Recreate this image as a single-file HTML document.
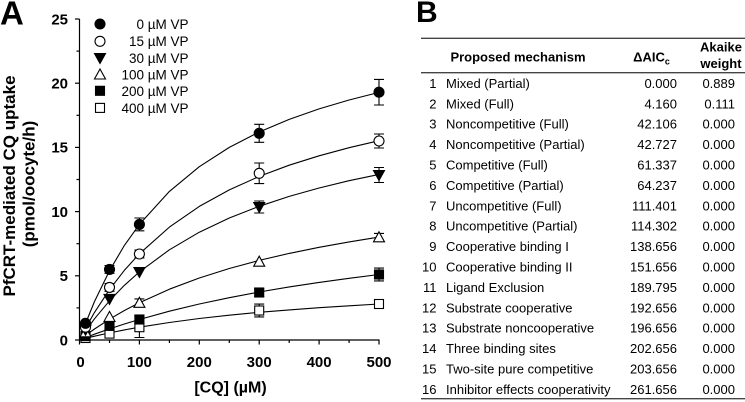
<!DOCTYPE html>
<html>
<head>
<meta charset="utf-8">
<style>
html,body{margin:0;padding:0;background:#fff;}
svg{display:block;}
text{font-family:"Liberation Sans",Arial,sans-serif;fill:#000;}
</style>
</head>
<body>
<svg width="745" height="402" viewBox="0 0 745 402" xmlns="http://www.w3.org/2000/svg">
<rect width="745" height="402" fill="#fff"/>

<!-- Panel labels -->
<text x="0" y="24.5" font-size="33" font-weight="bold">A</text>
<text x="416" y="22" font-size="30" font-weight="bold">B</text>

<!-- Axes -->
<g stroke="#000" stroke-width="1.2" fill="none">
  <line x1="79.5" y1="19" x2="79.5" y2="340.5"/>
  <line x1="79" y1="340" x2="379.5" y2="340"/>
  <!-- y major ticks -->
  <line x1="75" y1="340" x2="79.5" y2="340"/>
  <line x1="75" y1="275.8" x2="79.5" y2="275.8"/>
  <line x1="75" y1="211.6" x2="79.5" y2="211.6"/>
  <line x1="75" y1="147.4" x2="79.5" y2="147.4"/>
  <line x1="75" y1="83.2" x2="79.5" y2="83.2"/>
  <line x1="75" y1="19" x2="79.5" y2="19"/>
  <!-- y minor ticks -->
  <line x1="76.5" y1="307.9" x2="79.5" y2="307.9"/>
  <line x1="76.5" y1="243.7" x2="79.5" y2="243.7"/>
  <line x1="76.5" y1="179.5" x2="79.5" y2="179.5"/>
  <line x1="76.5" y1="115.3" x2="79.5" y2="115.3"/>
  <line x1="76.5" y1="51.1" x2="79.5" y2="51.1"/>
  <!-- x major ticks -->
  <line x1="79.5" y1="340" x2="79.5" y2="344.5"/>
  <line x1="139.4" y1="340" x2="139.4" y2="344.5"/>
  <line x1="199.3" y1="340" x2="199.3" y2="344.5"/>
  <line x1="259.2" y1="340" x2="259.2" y2="344.5"/>
  <line x1="319.1" y1="340" x2="319.1" y2="344.5"/>
  <line x1="379" y1="340" x2="379" y2="344.5"/>
  <!-- x minor ticks -->
  <line x1="109.5" y1="340" x2="109.5" y2="343"/>
  <line x1="169.4" y1="340" x2="169.4" y2="343"/>
  <line x1="229.3" y1="340" x2="229.3" y2="343"/>
  <line x1="289.2" y1="340" x2="289.2" y2="343"/>
  <line x1="349.1" y1="340" x2="349.1" y2="343"/>
</g>

<!-- Y tick labels -->
<g font-size="15" font-weight="bold" text-anchor="end">
  <text x="68" y="345.3">0</text>
  <text x="68" y="281.1">5</text>
  <text x="68" y="216.9">10</text>
  <text x="68" y="152.7">15</text>
  <text x="68" y="88.5">20</text>
  <text x="68" y="24.3">25</text>
</g>
<!-- X tick labels -->
<g font-size="15" font-weight="bold" text-anchor="middle">
  <text x="80.5" y="366.8">0</text>
  <text x="139.4" y="366.8">100</text>
  <text x="199.3" y="366.8">200</text>
  <text x="259.2" y="366.8">300</text>
  <text x="319.1" y="366.8">400</text>
  <text x="379" y="366.8">500</text>
</g>
<!-- Axis titles -->
<text x="230.5" y="392.5" font-size="16" font-weight="bold" text-anchor="middle">[CQ] (µM)</text>
<g font-size="17" font-weight="bold" text-anchor="middle">
  <text transform="translate(15,186) rotate(-90)">PfCRT-mediated CQ uptake</text>
  <text transform="translate(34.5,184) rotate(-90)">(pmol/oocyte/h)</text>
</g>

<!-- Fitted curves -->
<g fill="none" stroke="#000" stroke-width="1.1" stroke-linejoin="round">
  <polyline points="79.5,340 85.5,323.5 94.5,301.5 109.5,270.7 124.4,245.4 139.4,224.4 169.4,191.4 199.3,166.7 229.3,147.4 259.2,132.0 289.2,119.4 319.1,108.9 349.1,100.0 379,92.4"/>
  <polyline points="79.5,340 85.5,328.3 94.5,312.4 109.5,289.6 124.4,270.3 139.4,253.8 169.4,227.1 199.3,206.4 229.3,189.9 259.2,176.4 289.2,165.2 319.1,155.8 349.1,147.7 379,140.7"/>
  <polyline points="79.5,340 85.5,331.1 94.5,318.8 109.5,300.8 124.4,285.3 139.4,271.9 169.4,249.8 199.3,232.2 229.3,218.0 259.2,206.3 289.2,196.4 319.1,188.0 349.1,180.7 379,174.4"/>
  <polyline points="79.5,340 85.5,335.4 94.5,329.0 109.5,319.2 124.4,310.5 139.4,302.7 169.4,289.2 199.3,278.0 229.3,268.5 259.2,260.4 289.2,253.4 319.1,247.3 349.1,241.9 379,237.1"/>
  <polyline points="79.5,340 85.5,337.6 94.5,334.2 109.5,328.9 124.4,324.0 139.4,319.5 169.4,311.2 199.3,304.0 229.3,297.7 259.2,292.0 289.2,286.9 319.1,282.4 349.1,278.3 379,274.5"/>
  <polyline points="79.5,340 85.5,338.4 94.5,336.2 109.5,332.9 124.4,329.9 139.4,327.2 169.4,322.5 199.3,318.5 229.3,315.2 259.2,312.3 289.2,309.9 319.1,307.7 349.1,305.8 379,304.0"/>
</g>

<!-- Error bars -->
<g stroke="#000" stroke-width="1.1" fill="none">
  <!-- series 1 -->
  <path d="M109.5,265.5V273.3M104.5,265.5H114.5M104.5,273.3H114.5"/>
  <path d="M139.4,218V230.8M134.4,218H144.4M134.4,230.8H144.4"/>
  <path d="M259.2,124.3V142.3M254.2,124.3H264.2M254.2,142.3H264.2"/>
  <path d="M379,79.4V105M374,79.4H384M374,105H384"/>
  <!-- series 2 -->
  <path d="M109.5,283.5V291.3M104.5,283.5H114.5M104.5,291.3H114.5"/>
  <path d="M139.4,250.1V257.9M134.4,250.1H144.4M134.4,257.9H144.4"/>
  <path d="M259.2,163V183.6M254.2,163H264.2M254.2,183.6H264.2"/>
  <path d="M379,134V148M374,134H384M374,148H384"/>
  <!-- series 3 -->
  <path d="M259.2,201V213M254.2,201H264.2M254.2,213H264.2"/>
  <path d="M379,167.5V182.5M374,167.5H384M374,182.5H384"/>
  <!-- series 4 -->
  <path d="M139.4,298.9V306.7M134.4,298.9H144.4M134.4,306.7H144.4"/>
  <path d="M379,233.4V241.2M374,233.4H384M374,241.2H384"/>
  <!-- series 5 -->
  <path d="M139.4,315.6V323.4M134.4,315.6H144.4M134.4,323.4H144.4"/>
  <path d="M259.2,288.6V296.4M254.2,288.6H264.2M254.2,296.4H264.2"/>
  <path d="M379,268.1V280.9M374,268.1H384M374,280.9H384"/>
  <!-- series 6 -->
  <path d="M139.4,316.9V337.5M134.4,316.9H144.4M134.4,337.5H144.4"/>
  <path d="M259.2,304.1V316.9M254.2,304.1H264.2M254.2,316.9H264.2"/>
  <path d="M379,300.1V307.9M374,300.1H384M374,307.9H384"/>
</g>

<!-- Markers -->
<g stroke="#000" stroke-width="1.1">
  <!-- series 6 open squares -->
  <g fill="#fff">
    <rect x="81" y="333.5" width="9" height="9"/>
    <rect x="105" y="329.1" width="9" height="9"/>
    <rect x="134.9" y="322.7" width="9" height="9"/>
    <rect x="254.7" y="306" width="9" height="9"/>
    <rect x="374.5" y="299.5" width="9" height="9"/>
  </g>
  <!-- series 5 filled squares -->
  <g fill="#000">
    <rect x="81" y="331.6" width="9" height="9"/>
    <rect x="105" y="321.4" width="9" height="9"/>
    <rect x="134.9" y="315" width="9" height="9"/>
    <rect x="254.7" y="288" width="9" height="9"/>
    <rect x="374.5" y="270" width="9" height="9"/>
  </g>
  <!-- series 4 open up triangles -->
  <g fill="#fff">
    <polygon points="85.5,326.8 91,336.8 80,336.8"/>
    <polygon points="109.5,311.4 115,321.4 104,321.4"/>
    <polygon points="139.4,297.3 144.9,307.3 133.9,307.3"/>
    <polygon points="259.2,256.2 264.7,266.2 253.7,266.2"/>
    <polygon points="379,231.8 384.5,241.8 373.5,241.8"/>
  </g>
  <!-- series 3 filled down triangles -->
  <g fill="#000">
    <polygon points="80,325.2 91,325.2 85.5,335.2"/>
    <polygon points="104,294.4 115,294.4 109.5,304.4"/>
    <polygon points="133.9,267.5 144.9,267.5 139.4,277.5"/>
    <polygon points="253.7,202.5 264.7,202.5 259.2,212.5"/>
    <polygon points="373.5,170.5 384.5,170.5 379,180.5"/>
  </g>
  <!-- series 2 open circles -->
  <g fill="#fff">
    <circle cx="85.5" cy="327.2" r="5"/>
    <circle cx="109.5" cy="287.4" r="5"/>
    <circle cx="139.4" cy="254" r="5"/>
    <circle cx="259.2" cy="173.3" r="5"/>
    <circle cx="379" cy="141" r="5"/>
  </g>
  <!-- series 1 filled circles -->
  <g fill="#000">
    <circle cx="85.5" cy="323.3" r="5"/>
    <circle cx="109.5" cy="269.4" r="5"/>
    <circle cx="139.4" cy="224.4" r="5"/>
    <circle cx="259.2" cy="133.3" r="5"/>
    <circle cx="379" cy="92.2" r="5"/>
  </g>
</g>

<!-- Legend -->
<g stroke="#000" stroke-width="1.1">
  <circle cx="100" cy="24" r="5" fill="#000"/>
  <circle cx="100" cy="41.3" r="5" fill="#fff"/>
  <polygon points="94.5,53.5 105.5,53.5 100,63.5" fill="#000"/>
  <polygon points="100,69 105.5,79 94.5,79" fill="#fff"/>
  <rect x="95.5" y="86.3" width="9" height="9" fill="#000"/>
  <rect x="95.5" y="103.4" width="9" height="9" fill="#fff"/>
</g>
<g font-size="13.5" text-anchor="end">
  <text x="188.5" y="28.8">0 µM VP</text>
  <text x="188.5" y="46">15 µM VP</text>
  <text x="188.5" y="63">30 µM VP</text>
  <text x="188.5" y="79.5">100 µM VP</text>
  <text x="188.5" y="96">200 µM VP</text>
  <text x="188.5" y="113">400 µM VP</text>
</g>

<!-- Table -->
<g stroke="#444" stroke-width="1.4">
  <line x1="421" y1="38.3" x2="745" y2="38.3"/>
  <line x1="421" y1="72.7" x2="745" y2="72.7"/>
  <line x1="421" y1="398.7" x2="745" y2="398.7"/>
</g>
<g font-size="13" font-weight="bold">
  <text x="518" y="61.5" text-anchor="middle">Proposed mechanism</text>
  <text x="651.5" y="61.5" text-anchor="middle">ΔAIC<tspan font-size="9" dy="3">c</tspan></text>
  <text x="721" y="51.5" text-anchor="middle">Akaike</text>
  <text x="721" y="68" text-anchor="middle">weight</text>
</g>
<g font-size="13">
  <g text-anchor="end">
    <text x="436.5" y="87.9">1</text>
    <text x="436.5" y="108.3">2</text>
    <text x="436.5" y="128.7">3</text>
    <text x="436.5" y="149.1">4</text>
    <text x="436.5" y="169.5">5</text>
    <text x="436.5" y="189.9">6</text>
    <text x="436.5" y="210.3">7</text>
    <text x="436.5" y="230.7">8</text>
    <text x="436.5" y="251.1">9</text>
    <text x="436.5" y="271.5">10</text>
    <text x="436.5" y="291.9">11</text>
    <text x="436.5" y="312.3">12</text>
    <text x="436.5" y="332.7">13</text>
    <text x="436.5" y="353.1">14</text>
    <text x="436.5" y="373.5">15</text>
    <text x="436.5" y="393.9">16</text>
  </g>
  <g>
    <text x="446" y="87.9">Mixed (Partial)</text>
    <text x="446" y="108.3">Mixed (Full)</text>
    <text x="446" y="128.7">Noncompetitive (Full)</text>
    <text x="446" y="149.1">Noncompetitive (Partial)</text>
    <text x="446" y="169.5">Competitive (Full)</text>
    <text x="446" y="189.9">Competitive (Partial)</text>
    <text x="446" y="210.3">Uncompetitive (Full)</text>
    <text x="446" y="230.7">Uncompetitive (Partial)</text>
    <text x="446" y="251.1">Cooperative binding I</text>
    <text x="446" y="271.5">Cooperative binding II</text>
    <text x="446" y="291.9">Ligand Exclusion</text>
    <text x="446" y="312.3">Substrate cooperative</text>
    <text x="446" y="332.7">Substrate noncooperative</text>
    <text x="446" y="353.1">Three binding sites</text>
    <text x="446" y="373.5">Two-site pure competitive</text>
    <text x="446" y="393.9">Inhibitor effects cooperativity</text>
  </g>
  <g text-anchor="end">
    <text x="677" y="87.9">0.000</text>
    <text x="677" y="108.3">4.160</text>
    <text x="677" y="128.7">42.106</text>
    <text x="677" y="149.1">42.727</text>
    <text x="677" y="169.5">61.337</text>
    <text x="677" y="189.9">64.237</text>
    <text x="677" y="210.3">111.401</text>
    <text x="677" y="230.7">114.302</text>
    <text x="677" y="251.1">138.656</text>
    <text x="677" y="271.5">151.656</text>
    <text x="677" y="291.9">189.795</text>
    <text x="677" y="312.3">192.656</text>
    <text x="677" y="332.7">196.656</text>
    <text x="677" y="353.1">202.656</text>
    <text x="677" y="373.5">203.656</text>
    <text x="677" y="393.9">261.656</text>
  </g>
  <g text-anchor="end">
    <text x="735" y="87.9">0.889</text>
    <text x="735" y="108.3">0.111</text>
    <text x="735" y="128.7">0.000</text>
    <text x="735" y="149.1">0.000</text>
    <text x="735" y="169.5">0.000</text>
    <text x="735" y="189.9">0.000</text>
    <text x="735" y="210.3">0.000</text>
    <text x="735" y="230.7">0.000</text>
    <text x="735" y="251.1">0.000</text>
    <text x="735" y="271.5">0.000</text>
    <text x="735" y="291.9">0.000</text>
    <text x="735" y="312.3">0.000</text>
    <text x="735" y="332.7">0.000</text>
    <text x="735" y="353.1">0.000</text>
    <text x="735" y="373.5">0.000</text>
    <text x="735" y="393.9">0.000</text>
  </g>
</g>
</svg>
</body>
</html>
